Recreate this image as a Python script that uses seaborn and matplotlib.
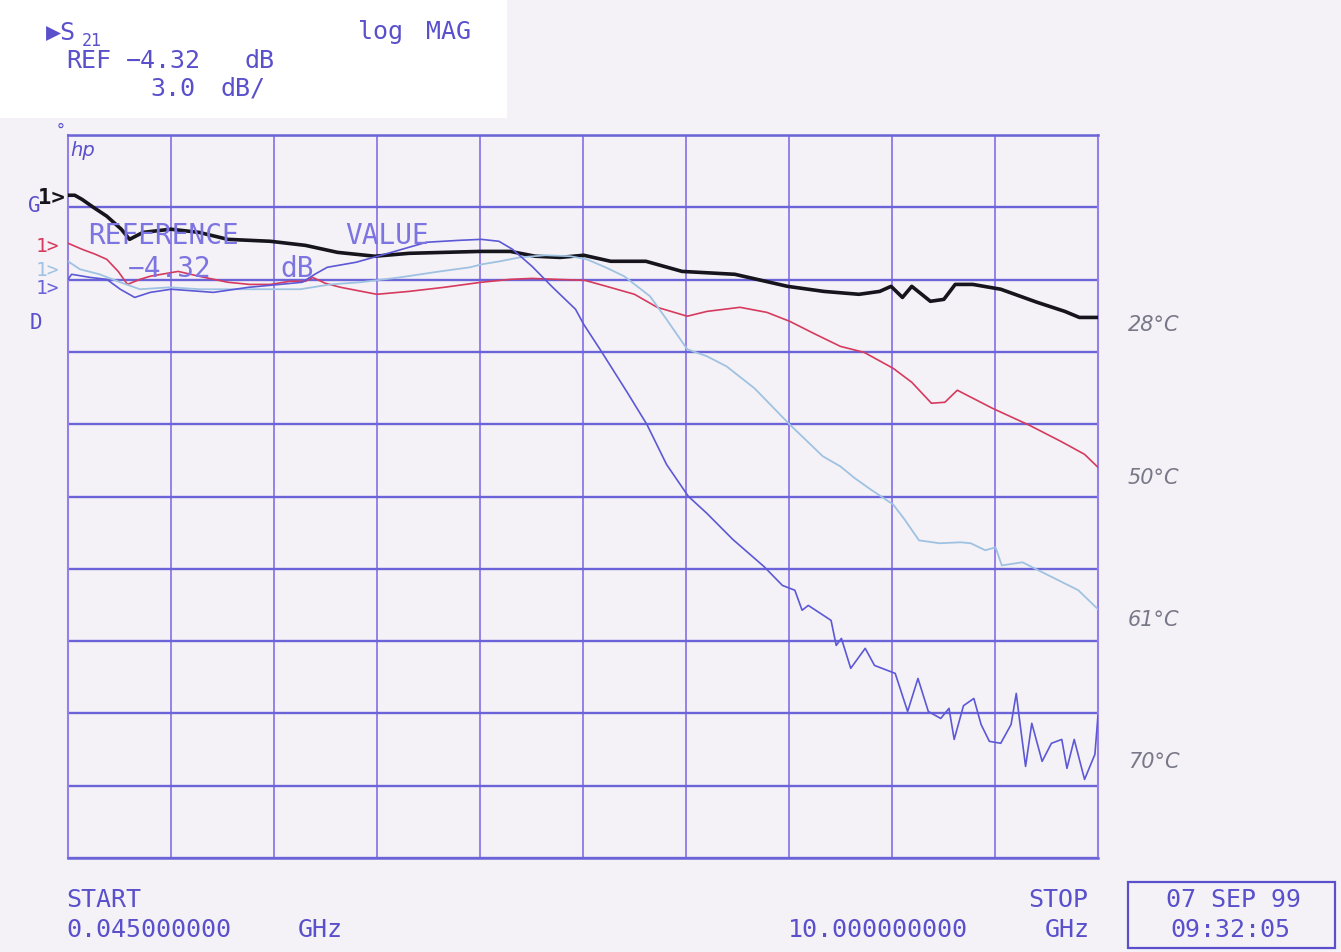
import numpy as np
import pandas as pd
import matplotlib
matplotlib.use("Agg")
import matplotlib.pyplot as plt
from matplotlib.patches import Rectangle
import seaborn as sns

# Sweep / display settings of the network analyser
START_GHZ = 0.045
STOP_GHZ = 10.0
REF_DB = -4.32
SCALE_DB = 3.0
N_DIV = 10

# S21 magnitude traces (GHz, dB) for each temperature
freq_28 = [0.045, 0.11, 0.18, 0.29, 0.42, 0.56, 0.64, 0.77, 1.04, 1.31, 1.59, 2.00,
           2.34, 2.65, 3.01, 3.34, 3.68, 4.03, 4.32, 4.56, 4.80, 5.03, 5.29, 5.63,
           5.98, 6.49, 7.00, 7.35, 7.69, 7.89, 8.00, 8.11, 8.20, 8.38, 8.51, 8.62,
           8.79, 9.06, 9.41, 9.68, 9.82, 10.0]
s21_28 = [-3.82, -3.82, -3.99, -4.32, -4.69, -5.23, -5.65, -5.36, -5.23, -5.36, -5.65, -5.73,
          -5.90, -6.19, -6.35, -6.23, -6.19, -6.15, -6.15, -6.35, -6.40, -6.31, -6.56, -6.56,
          -6.98, -7.10, -7.60, -7.81, -7.93, -7.81, -7.60, -8.06, -7.60, -8.22, -8.14, -7.52,
          -7.52, -7.72, -8.26, -8.64, -8.89, -8.89]

freq_50 = [0.045, 0.18, 0.31, 0.42, 0.53, 0.62, 0.74, 0.84, 1.11, 1.31, 1.59, 1.80,
           2.00, 2.19, 2.34, 2.41, 2.53, 2.68, 3.03, 3.34, 3.68, 4.04, 4.32, 4.53,
           4.77, 5.04, 5.25, 5.52, 5.74, 6.03, 6.22, 6.54, 6.80, 7.02, 7.27, 7.51,
           7.74, 8.02, 8.20, 8.39, 8.52, 8.64, 8.98, 9.34, 9.64, 9.87, 10.0]
s21_50 = [-5.81, -6.06, -6.27, -6.48, -6.98, -7.52, -7.31, -7.18, -6.98, -7.18, -7.43, -7.52,
          -7.52, -7.39, -7.39, -7.23, -7.47, -7.64, -7.93, -7.81, -7.64, -7.43, -7.31, -7.27,
          -7.31, -7.35, -7.60, -7.93, -8.47, -8.84, -8.64, -8.47, -8.68, -9.05, -9.59, -10.09,
          -10.34, -11.00, -11.58, -12.45, -12.41, -11.91, -12.66, -13.37, -14.03, -14.57, -15.11]

freq_61 = [0.045, 0.16, 0.35, 0.55, 0.74, 1.03, 1.32, 1.71, 2.00, 2.29, 2.58, 2.87,
           3.25, 3.64, 3.93, 4.04, 4.22, 4.41, 4.66, 4.90, 5.06, 5.24, 5.42, 5.67,
           5.83, 6.03, 6.22, 6.41, 6.68, 7.02, 7.34, 7.51, 7.64, 7.80, 8.02, 8.13,
           8.27, 8.47, 8.67, 8.77, 8.91, 9.01, 9.07, 9.27, 9.54, 9.81, 10.0]
s21_61 = [-6.56, -6.89, -7.10, -7.43, -7.72, -7.64, -7.72, -7.72, -7.72, -7.72, -7.52, -7.43,
          -7.23, -6.98, -6.81, -6.69, -6.56, -6.40, -6.31, -6.35, -6.48, -6.81, -7.18, -8.01,
          -8.97, -10.21, -10.50, -10.92, -11.83, -13.33, -14.65, -15.07, -15.53, -16.02, -16.65, -17.27,
          -18.14, -18.26, -18.22, -18.26, -18.55, -18.43, -19.18, -19.05, -19.63, -20.21, -21.00]

freq_70 = [0.045, 0.08, 0.26, 0.42, 0.55, 0.69, 0.84, 1.04, 1.45, 1.79, 2.09, 2.31,
           2.43, 2.55, 2.83, 3.17, 3.51, 3.83, 4.04, 4.21, 4.34, 4.53, 4.72, 4.95,
           5.03, 5.20, 5.45, 5.64, 5.83, 6.04, 6.22, 6.47, 6.77, 6.95, 7.07, 7.14,
           7.20, 7.42, 7.47, 7.52, 7.61, 7.75, 7.84, 8.04, 8.16, 8.26, 8.36, 8.48,
           8.56, 8.61, 8.70, 8.80, 8.87, 8.95, 9.06, 9.16, 9.21, 9.24, 9.30, 9.36,
           9.46, 9.55, 9.65, 9.70, 9.77, 9.87, 9.97, 10.0]
s21_70 = [-7.31, -7.10, -7.23, -7.31, -7.72, -8.06, -7.85, -7.72, -7.85, -7.64, -7.52, -7.43,
          -7.10, -6.81, -6.60, -6.19, -5.77, -5.69, -5.65, -5.73, -6.06, -6.77, -7.60, -8.55,
          -9.18, -10.30, -12.00, -13.33, -14.99, -16.31, -17.02, -18.10, -19.22, -20.01, -20.21, -21.04,
          -20.84, -21.46, -22.50, -22.21, -23.45, -22.62, -23.33, -23.66, -25.24, -23.87, -25.24, -25.53,
          -25.11, -26.40, -25.00, -24.70, -25.78, -26.48, -26.56, -25.78, -24.49, -25.53, -27.52, -25.73,
          -27.31, -26.56, -26.40, -27.60, -26.40, -28.06, -27.02, -25.40]

temp_labels = ["28°C", "50°C", "61°C", "70°C"]
trace_colors = ["#16141c", "#d63a5e", "#9fc2e2", "#5c58d6"]
trace_widths = [2.6, 1.2, 1.3, 1.2]

W, H = 1341, 952
PAPER = "#f4f2f6"
INK = "#5a50cc"
GRID_H = "#6a64d8"
GRID_V = "#9680e8"
HAND = "#787888"
MONO = "DejaVu Sans Mono"

sns.set_theme(style="white")
plt.rcParams["font.family"] = ["DejaVu Sans"]

fig = plt.figure(figsize=(W / 100, H / 100), dpi=100, facecolor=PAPER)
fig.patches.append(Rectangle((0, 1 - 118 / H), 507 / W, 118 / H,
                             transform=fig.transFigure, facecolor="white",
                             edgecolor="none", zorder=-1))

ax = fig.add_axes([68 / W, 1 - 858 / H, (1098 - 68) / W, (858 - 135) / H])
ax.set_facecolor(PAPER)

top = REF_DB + SCALE_DB
bottom = REF_DB - (N_DIV - 1) * SCALE_DB
ax.set_xlim(START_GHZ, STOP_GHZ)
ax.set_ylim(bottom, top)
ax.set_xticks(np.linspace(START_GHZ, STOP_GHZ, N_DIV + 1))
ax.set_yticks(np.linspace(bottom, top, N_DIV + 1))
ax.tick_params(length=0, labelbottom=False, labelleft=False)
ax.xaxis.grid(True, color=GRID_V, lw=1.4)
ax.yaxis.grid(True, color=GRID_H, lw=1.7)
ax.set_axisbelow(True)
for side in ["top", "bottom"]:
    ax.spines[side].set_color(GRID_H)
    ax.spines[side].set_linewidth(1.8)
for side in ["left", "right"]:
    ax.spines[side].set_color(GRID_V)
    ax.spines[side].set_linewidth(1.5)


def ftext(x, y, s, **kw):
    kw.setdefault("family", MONO)
    kw.setdefault("color", INK)
    kw.setdefault("va", "center")
    return fig.text(x / W, 1 - y / H, s, **kw)


# Reference value annotation sits beneath the traces
ref_kw = dict(fontsize=20, color="#7c74e0", zorder=1, va="baseline")
ftext(88, 244, "REFERENCE", **ref_kw)
ftext(345, 244, "VALUE", **ref_kw)
ftext(128, 277, "−4.32", **ref_kw)
ftext(280, 277, "dB", **ref_kw)

traces = [(freq_28, s21_28), (freq_50, s21_50), (freq_61, s21_61), (freq_70, s21_70)]
for (f, s), lab, col, lw in zip(traces, temp_labels, trace_colors, trace_widths):
    df = pd.DataFrame({"GHz": f, "dB": s})
    sns.lineplot(data=df, x="GHz", y="dB", ax=ax, color=col, lw=lw,
                 sort=False, estimator=None, zorder=5)
ax.set_xlabel("")
ax.set_ylabel("")

# Header block
FS = 18
ftext(46, 32, "▶S", fontsize=FS)
ftext(82, 41, "21", fontsize=12)
ftext(358, 32, "log", fontsize=FS)
ftext(426, 32, "MAG", fontsize=FS)
ftext(66, 61, "REF", fontsize=FS)
ftext(126, 61, "−4.32", fontsize=FS)
ftext(244, 61, "dB", fontsize=FS)
ftext(150, 89, "3.0", fontsize=FS)
ftext(220, 89, "dB/", fontsize=FS)

# Corner marks and channel labels
ftext(56, 131, "°", fontsize=12)
ftext(70, 150, "hp", fontsize=14, family="DejaVu Sans", style="italic")
ftext(28, 206, "G", fontsize=15)
ftext(30, 323, "D", fontsize=15)
ftext(38, 198, "1>", fontsize=16, color="#16141c", weight="bold")
ftext(36, 246, "1>", fontsize=14, color="#d63a5e")
ftext(36, 270, "1>", fontsize=14, color="#9fc2e2")
ftext(36, 288, "1>", fontsize=14, color="#6a64d8")

# Sweep limits
ftext(66, 900, "START", fontsize=FS)
ftext(66, 930, "0.045000000", fontsize=FS)
ftext(298, 930, "GHz", fontsize=FS)
ftext(1088, 900, "STOP", fontsize=FS, ha="right")
ftext(788, 930, "10.000000000", fontsize=FS)
ftext(1090, 930, "GHz", fontsize=FS, ha="right")

# Date / time box
fig.patches.append(Rectangle((1128 / W, 1 - 948 / H), (1335 - 1128) / W, (948 - 882) / H,
                             transform=fig.transFigure, facecolor="none",
                             edgecolor=INK, lw=1.6))
ftext(1234, 900, "07 SEP 99", fontsize=FS, ha="center")
ftext(1230, 930, "09:32:05", fontsize=FS, ha="center")

# Handwritten temperature notes at the end of each trace
hand_y = [325, 478, 620, 762]
for lab, y in zip(temp_labels, hand_y):
    ftext(1128, y, lab, fontsize=15, family="DejaVu Sans", style="italic",
          color=HAND, weight="light")

fig.savefig("out.png", dpi=100, facecolor=PAPER)
